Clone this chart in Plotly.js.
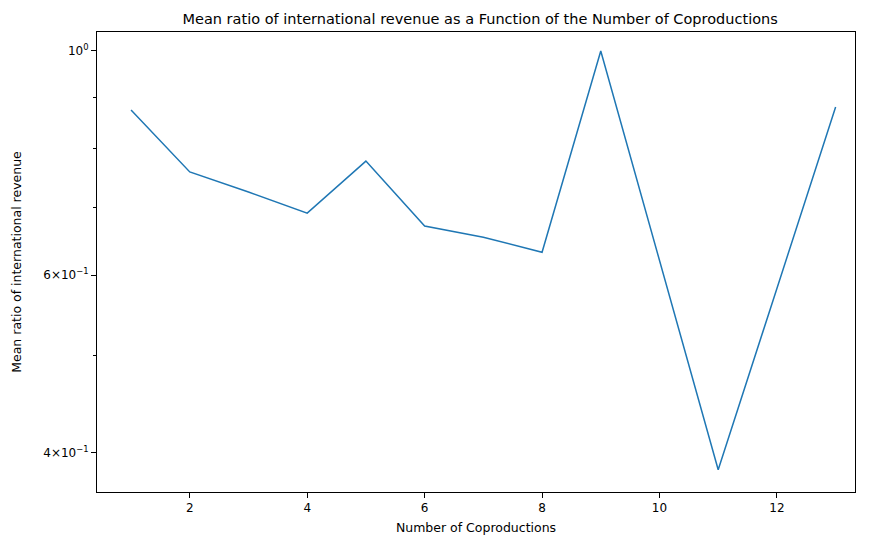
<!DOCTYPE html>
<html>
<head>
<script src="https://cdn.plot.ly/plotly-3.0.1.min.js"></script>
<style>body{margin:0}</style>
</head>
<body>
<div id="chart" style="width:881px;height:545px"></div>
<script>
const coproductions = [1, 2, 3, 4, 5, 6, 7, 8, 9, 10, 11, 12, 13]
const meanRatio = [0.874, 0.759, 0.725, 0.691, 0.778, 0.671, 0.654, 0.632, 1.0, 0.620, 0.385, 0.582, 0.880]
const yTickVals = [0.4, 0.6, 1.0]
const yTickText = ["4×10<sup>−1</sup>", "6×10<sup>−1</sup>", "10<sup>0</sup>"]
const yMinorVals = [0.5, 0.7, 0.8, 0.9]

var axisBase = {
	showline: true, mirror: true, linecolor: "black", linewidth: 1,
	ticks: "outside", ticklen: 5, tickcolor: "black",
	showgrid: false, zeroline: false,
	tickfont: {size: 12, color: "black"}
}

var layout = {
	width: 881, height: 545,
	margin: {l: 97, r: 26, t: 32, b: 53},
	paper_bgcolor: "white", plot_bgcolor: "white",
	font: {family: "DejaVu Sans", color: "black"},
	showlegend: false,
	title: {text: "Mean ratio of international revenue as a Function of the Number of Coproductions",
		font: {size: 14.5}, x: 0.545, xanchor: "center", y: 0.975},
	xaxis: Object.assign({}, axisBase, {
		range: [0.42, 13.33], tickvals: [2, 4, 6, 8, 10, 12],
		title: {text: "Number of Coproductions", font: {size: 12.5}, standoff: 8}
	}),
	yaxis: Object.assign({}, axisBase, {
		type: "log", range: [-0.4366, 0.0188],
		tickvals: yTickVals, ticktext: yTickText,
		minor: {tickvals: yMinorVals, ticks: "outside", ticklen: 3, tickcolor: "black", showgrid: false},
		title: {text: "Mean ratio of international revenue", font: {size: 12.5}, standoff: 18}
	})
}

Plotly.newPlot("chart", [{
	x: coproductions, y: meanRatio, type: "scatter", mode: "lines",
	line: {color: "#1f77b4", width: 1.5}
}], layout, {displayModeBar: false})
</script>
</body>
</html>
